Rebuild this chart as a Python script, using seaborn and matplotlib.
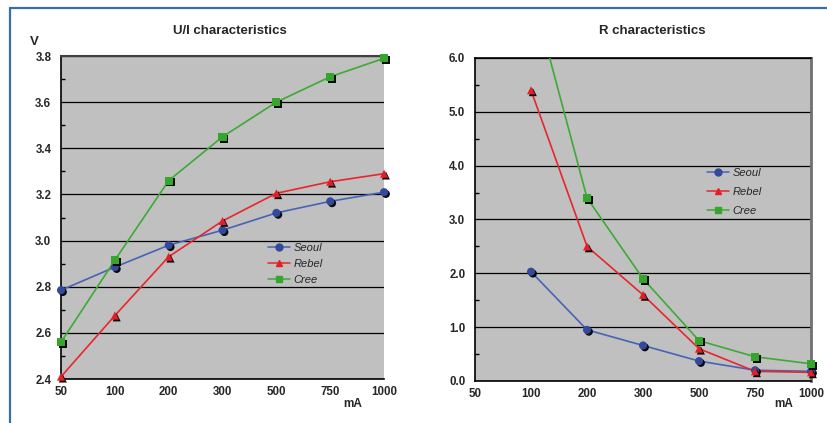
import numpy as np
import pandas as pd
import matplotlib
matplotlib.use("Agg")
import matplotlib.pyplot as plt
import matplotlib.patheffects as pe
from matplotlib.lines import Line2D
from matplotlib.ticker import MultipleLocator
import seaborn as sns

sns.set_theme(style="white")
plt.rcParams["font.family"] = ["Liberation Sans", "DejaVu Sans"]

currents = ["50", "100", "200", "300", "500", "750", "1000"]
series = ["Seoul", "Rebel", "Cree"]

# U/I characteristics (V)
volt_seoul = [2.785, 2.885, 2.98, 3.045, 3.12, 3.17, 3.21]
volt_rebel = [2.41, 2.675, 2.93, 3.085, 3.205, 3.255, 3.29]
volt_cree = [2.56, 2.915, 3.26, 3.45, 3.60, 3.71, 3.79]

# R characteristics
res_seoul = [np.nan, 2.03, 0.95, 0.66, 0.37, 0.20, 0.18]
res_rebel = [np.nan, 5.40, 2.50, 1.60, 0.60, 0.18, 0.16]
res_cree = [np.nan, 7.30, 3.40, 1.90, 0.75, 0.45, 0.32]

colors = {"Seoul": "#4763B5", "Rebel": "#E8262D", "Cree": "#3DAA35"}
mcolors = {"Seoul": "#34489C", "Rebel": "#E31E26", "Cree": "#35A52C"}
markers = {"Seoul": "o", "Rebel": "^", "Cree": "s"}

def make_df(values):
    rows = []
    for name, vals in zip(series, values):
        for i, v in enumerate(vals):
            rows.append({"pos": i, "value": v, "series": name})
    return pd.DataFrame(rows)

ui_df = make_df([volt_seoul, volt_rebel, volt_cree])
r_df = make_df([res_seoul, res_rebel, res_cree])

fig = plt.figure(figsize=(8.27, 4.23), dpi=100)
ax1 = fig.add_axes([0.0738, 0.104, 0.3906, 0.7636])
ax2 = fig.add_axes([0.5744, 0.0993, 0.4063, 0.7636])

shadow = [pe.SimplePatchShadow(offset=(1.3, -1.3), shadow_rgbFace="black", alpha=0.95), pe.Normal()]

def draw(ax, df, ylim, major, minor, fmt, leg_xy, leg_space):
    ax.set_facecolor("#C0C0C0")
    for name in series:
        sub = df[df["series"] == name].dropna()
        sns.lineplot(data=sub, x="pos", y="value", ax=ax, color=colors[name],
                     lw=1.2, legend=False, zorder=3)
        # markers outside the value range stay hidden, the rest may overlap the frame
        vis = sub[sub["value"] <= ylim[1]]
        sns.scatterplot(data=vis, x="pos", y="value", ax=ax, color=mcolors[name],
                        marker=markers[name], s=34, edgecolor="none",
                        legend=False, zorder=4, path_effects=shadow, clip_on=False)
    ax.set_xlim(0, 6)
    ax.set_ylim(*ylim)
    ax.set_xticks(range(len(currents)))
    ax.set_xticklabels(currents)
    ax.yaxis.set_major_locator(MultipleLocator(major))
    ax.yaxis.set_minor_locator(MultipleLocator(minor))
    ax.yaxis.set_major_formatter(plt.FormatStrFormatter(fmt))
    ax.grid(axis="y", which="major", color="black", lw=0.9)
    ax.set_axisbelow(True)
    ax.set_xlabel("")
    ax.set_ylabel("")
    ax.tick_params(axis="both", which="major", direction="inout", length=6, width=1,
                   color="black", labelsize=8.3)
    ax.tick_params(axis="x", which="major", pad=2)
    ax.tick_params(axis="y", which="major", pad=4)
    ax.tick_params(axis="y", which="minor", left=True, direction="in", length=3,
                   width=1, color="black")
    for lab in ax.get_xticklabels() + ax.get_yticklabels():
        lab.set_fontweight("bold")
    ax.spines["left"].set_color("black")
    ax.spines["bottom"].set_color("black")
    ax.spines["left"].set_linewidth(1.2)
    ax.spines["bottom"].set_linewidth(1.2)
    handles = [Line2D([0], [0], color=colors[n], marker=markers[n], markersize=5,
                      markerfacecolor=mcolors[n], markeredgecolor=mcolors[n], lw=1.1)
               for n in series]
    ax.legend(handles, series, loc="upper left", bbox_to_anchor=leg_xy, frameon=False,
              prop={"style": "italic", "size": 8}, handlelength=2.0, handletextpad=0.3,
              labelspacing=leg_space, borderpad=0, borderaxespad=0)

draw(ax1, ui_df, (2.4, 3.8), 0.2, 0.1, "%.1f", (0.64, 0.422), 0.55)
draw(ax2, r_df, (0.0, 6.0), 1.0, 0.5, "%.1f", (0.69, 0.66), 0.8)

ax1.spines["top"].set_color("#404040")
ax1.spines["top"].set_linewidth(1.5)
ax1.spines["right"].set_visible(False)
ax2.spines["top"].set_color("black")
ax2.spines["top"].set_linewidth(1.2)
ax2.spines["right"].set_color("#707070")
ax2.spines["right"].set_linewidth(2)

fig.text(230 / 827, 1 - 31 / 423, "U/I characteristics", ha="center", va="center",
         fontsize=9.5, fontweight="bold")
fig.text(652 / 827, 1 - 31 / 423, "R characteristics", ha="center", va="center",
         fontsize=9.5, fontweight="bold")
fig.text(34 / 827, 1 - 42 / 423, "V", ha="center", va="center", fontsize=9.5, fontweight="bold")
fig.text(353 / 827, 1 - 404 / 423, "mA", ha="center", va="center", fontsize=8.5, fontweight="bold")
fig.text(784 / 827, 1 - 404 / 423, "mA", ha="center", va="center", fontsize=8.5, fontweight="bold")

# blue frame along top and left edge
fig.add_artist(Line2D([10 / 827, 1], [1 - 8 / 423, 1 - 8 / 423], color="#3A6EA8", lw=1.6))
fig.add_artist(Line2D([10 / 827, 10 / 827], [0, 1 - 8 / 423], color="#3A6EA8", lw=1.6))

fig.savefig("out.png", dpi=100)
